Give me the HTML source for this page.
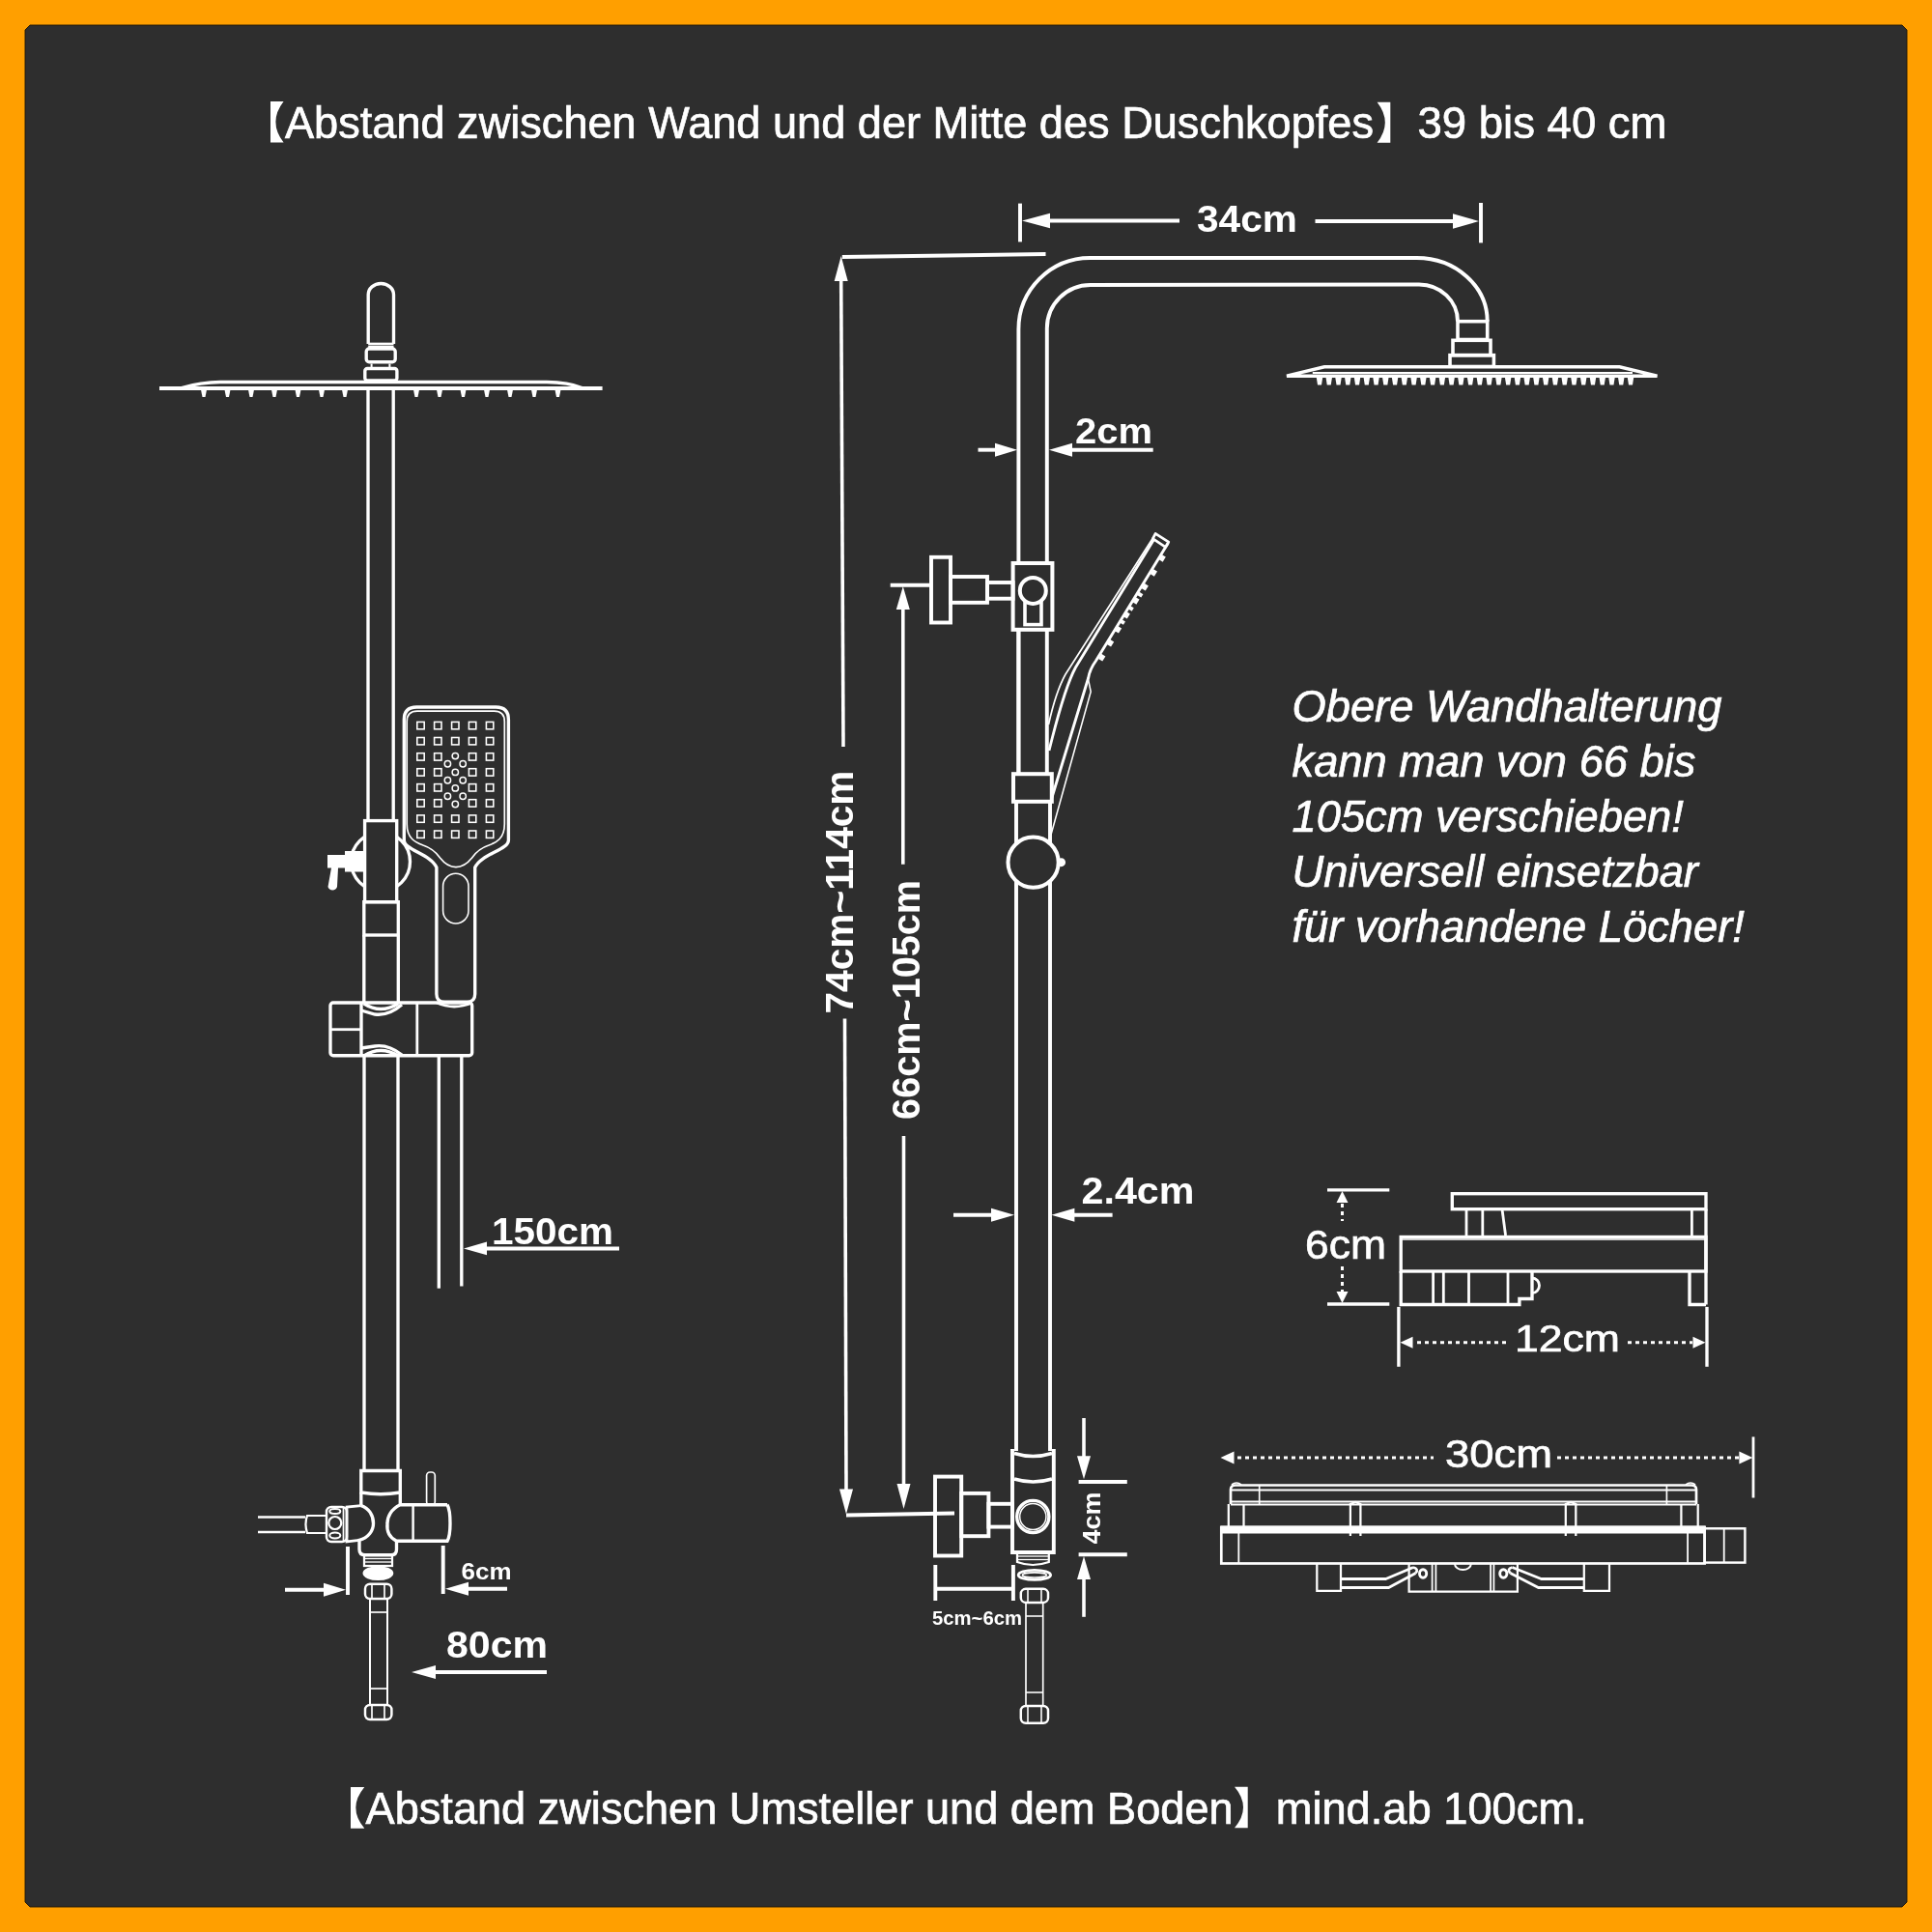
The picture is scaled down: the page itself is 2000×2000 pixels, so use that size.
<!DOCTYPE html>
<html><head><meta charset="utf-8"><style>
html,body{margin:0;padding:0;background:#ff9f00;}
body{width:2000px;height:2000px;overflow:hidden;}
svg{display:block;font-family:"Liberation Sans",sans-serif;will-change:transform;}
</style></head><body>
<svg width="2000" height="2000" viewBox="0 0 2000 2000">
<polygon points="31,26 1969,26 1974,31 1974,1969 1969,1974 31,1974 26,1969 26,31" fill="#2e2e2e" stroke="#1a1206" stroke-width="0.9"/>
<g fill="#ffffff" stroke="none">
<path d="M280,105 L293.6,105 Q277.2,126.25 293.6,147.5 L280,147.5 Z"/>
<text x="295" y="143.3" font-size="45.3" font-weight="400" font-style="normal" text-anchor="start" textLength="1127" lengthAdjust="spacingAndGlyphs" stroke="#fff" stroke-width="0.7">Abstand zwischen Wand und der Mitte des Duschkopfes</text>
<path d="M1425.6,105.8 Q1442,126.8 1425.6,147.8 L1439.3,147.8 L1439.3,105.8 Z"/>
<text x="1467.5" y="143.3" font-size="45.3" font-weight="400" font-style="normal" text-anchor="start" textLength="258" lengthAdjust="spacingAndGlyphs" stroke="#fff" stroke-width="0.7">39 bis 40 cm</text>
</g>
<g stroke="#ffffff" fill="none">
<line x1="165" y1="402" x2="623.6" y2="402" stroke-width="4.03" stroke-linecap="butt"/>
<path d="M186,402 C200,398 212,395.5 228,395.5 L566,395.5 C582,395.5 594,398 604,402" stroke-width="3.36" fill="none" />
<polygon points="208,403.5 214,403.5 212.5,411 209.5,411" fill="#ffffff" stroke="none"/>
<polygon points="232.5,403.5 238.5,403.5 237,411 234,411" fill="#ffffff" stroke="none"/>
<polygon points="257,403.5 263,403.5 261.5,411 258.5,411" fill="#ffffff" stroke="none"/>
<polygon points="281,403.5 287,403.5 285.5,411 282.5,411" fill="#ffffff" stroke="none"/>
<polygon points="305.5,403.5 311.5,403.5 310,411 307,411" fill="#ffffff" stroke="none"/>
<polygon points="330,403.5 336,403.5 334.5,411 331.5,411" fill="#ffffff" stroke="none"/>
<polygon points="354,403.5 360,403.5 358.5,411 355.5,411" fill="#ffffff" stroke="none"/>
<polygon points="428,403.5 434,403.5 432.5,411 429.5,411" fill="#ffffff" stroke="none"/>
<polygon points="452,403.5 458,403.5 456.5,411 453.5,411" fill="#ffffff" stroke="none"/>
<polygon points="476.5,403.5 482.5,403.5 481,411 478,411" fill="#ffffff" stroke="none"/>
<polygon points="501,403.5 507,403.5 505.5,411 502.5,411" fill="#ffffff" stroke="none"/>
<polygon points="525,403.5 531,403.5 529.5,411 526.5,411" fill="#ffffff" stroke="none"/>
<polygon points="550,403.5 556,403.5 554.5,411 551.5,411" fill="#ffffff" stroke="none"/>
<polygon points="574.5,403.5 580.5,403.5 579,411 576,411" fill="#ffffff" stroke="none"/>
<path d="M381.2,356 L381.2,305 A13.15,11.5 0 0 1 407.5,305 L407.5,356" stroke-width="3.36" fill="none" />
<line x1="381.2" y1="356" x2="407.5" y2="356" stroke-width="2.69" stroke-linecap="butt"/>
<line x1="381.2" y1="359" x2="407.5" y2="359" stroke-width="2.24" stroke-linecap="butt"/>
<rect x="379.2" y="361" width="30" height="13.8" rx="3" stroke-width="3.36" fill="none"/>
<line x1="384.6" y1="376.5" x2="384.6" y2="380" stroke-width="2.02" stroke-linecap="butt"/>
<line x1="403.4" y1="376.5" x2="403.4" y2="380" stroke-width="2.02" stroke-linecap="butt"/>
<rect x="377.8" y="381.5" width="33.1" height="12.5" rx="2.5" stroke-width="3.36" fill="none"/>
<line x1="381" y1="402" x2="381" y2="849" stroke-width="3.36" stroke-linecap="butt"/>
<line x1="407.2" y1="402" x2="407.2" y2="849" stroke-width="3.36" stroke-linecap="butt"/>
<circle cx="394" cy="892" r="30.5" stroke-width="3.36" fill="none"/>
<path d="M339,885 L357,885 L357,881 L377,881 L377,902.5 L357,902.5 L357,898.5 L350,898.5 L349,918 A5,5 0 0 1 339.5,918 L343,898.5 L339,898.5 Z" fill="#ffffff" stroke="none"/>
<rect x="377.6" y="849.6" width="33.1" height="84.1" rx="0" stroke-width="3.36" fill="#2e2e2e"/>
<rect x="376.8" y="933.7" width="35.5" height="34.3" rx="0" stroke-width="3.36" fill="none"/>
<line x1="376.8" y1="968" x2="376.8" y2="1039" stroke-width="3.36" stroke-linecap="butt"/>
<line x1="412.3" y1="968" x2="412.3" y2="1039" stroke-width="3.36" stroke-linecap="butt"/>
<path d="M418.3,869.7 L418.3,745 Q418.3,732 431.3,732 L513.4,732 Q526.4,732 526.4,745 L526.4,869.7 C526.4,880 498,884 491.7,898 L491.7,1029 Q491.7,1037.3 483.4,1037.3 L460.2,1037.3 Q451.9,1037.3 451.9,1029 L451.9,898 C446,884 418.3,880 418.3,869.7 Z" stroke-width="3.36" fill="none" />
<path d="M421.2,853 L421.2,747 Q421.2,736.2 432,736.2 L511.5,736.2 Q522.3,736.2 522.3,747 L522.3,853 C522.3,868 514,872 506,875 C497,878 492,883 488.6,888 C483,895 477,897.6 472,897.6 C467,897.6 461,895 455.5,888 C452,883 447,878 438,875 C430,872 421.2,868 421.2,853 Z" stroke-width="1.68" fill="none" />
<rect x="431.8" y="747.4" width="7.4" height="7.4" rx="0" stroke-width="1.57" fill="none"/>
<rect x="449.6" y="747.4" width="7.4" height="7.4" rx="0" stroke-width="1.57" fill="none"/>
<rect x="467.6" y="747.4" width="7.4" height="7.4" rx="0" stroke-width="1.57" fill="none"/>
<rect x="485.4" y="747.4" width="7.4" height="7.4" rx="0" stroke-width="1.57" fill="none"/>
<rect x="503.4" y="747.4" width="7.4" height="7.4" rx="0" stroke-width="1.57" fill="none"/>
<rect x="431.8" y="763.5" width="7.4" height="7.4" rx="0" stroke-width="1.57" fill="none"/>
<rect x="449.6" y="763.5" width="7.4" height="7.4" rx="0" stroke-width="1.57" fill="none"/>
<rect x="467.6" y="763.5" width="7.4" height="7.4" rx="0" stroke-width="1.57" fill="none"/>
<rect x="485.4" y="763.5" width="7.4" height="7.4" rx="0" stroke-width="1.57" fill="none"/>
<rect x="503.4" y="763.5" width="7.4" height="7.4" rx="0" stroke-width="1.57" fill="none"/>
<rect x="431.8" y="779.7" width="7.4" height="7.4" rx="0" stroke-width="1.57" fill="none"/>
<rect x="449.6" y="779.7" width="7.4" height="7.4" rx="0" stroke-width="1.57" fill="none"/>
<rect x="485.4" y="779.7" width="7.4" height="7.4" rx="0" stroke-width="1.57" fill="none"/>
<rect x="503.4" y="779.7" width="7.4" height="7.4" rx="0" stroke-width="1.57" fill="none"/>
<rect x="431.8" y="795.7" width="7.4" height="7.4" rx="0" stroke-width="1.57" fill="none"/>
<rect x="449.6" y="795.7" width="7.4" height="7.4" rx="0" stroke-width="1.57" fill="none"/>
<rect x="485.4" y="795.7" width="7.4" height="7.4" rx="0" stroke-width="1.57" fill="none"/>
<rect x="503.4" y="795.7" width="7.4" height="7.4" rx="0" stroke-width="1.57" fill="none"/>
<rect x="431.8" y="811.6" width="7.4" height="7.4" rx="0" stroke-width="1.57" fill="none"/>
<rect x="449.6" y="811.6" width="7.4" height="7.4" rx="0" stroke-width="1.57" fill="none"/>
<rect x="485.4" y="811.6" width="7.4" height="7.4" rx="0" stroke-width="1.57" fill="none"/>
<rect x="503.4" y="811.6" width="7.4" height="7.4" rx="0" stroke-width="1.57" fill="none"/>
<rect x="431.8" y="827.7" width="7.4" height="7.4" rx="0" stroke-width="1.57" fill="none"/>
<rect x="449.6" y="827.7" width="7.4" height="7.4" rx="0" stroke-width="1.57" fill="none"/>
<rect x="485.4" y="827.7" width="7.4" height="7.4" rx="0" stroke-width="1.57" fill="none"/>
<rect x="503.4" y="827.7" width="7.4" height="7.4" rx="0" stroke-width="1.57" fill="none"/>
<rect x="431.8" y="843.9" width="7.4" height="7.4" rx="0" stroke-width="1.57" fill="none"/>
<rect x="449.6" y="843.9" width="7.4" height="7.4" rx="0" stroke-width="1.57" fill="none"/>
<rect x="467.6" y="843.9" width="7.4" height="7.4" rx="0" stroke-width="1.57" fill="none"/>
<rect x="485.4" y="843.9" width="7.4" height="7.4" rx="0" stroke-width="1.57" fill="none"/>
<rect x="503.4" y="843.9" width="7.4" height="7.4" rx="0" stroke-width="1.57" fill="none"/>
<rect x="431.8" y="860" width="7.4" height="7.4" rx="0" stroke-width="1.57" fill="none"/>
<rect x="449.6" y="860" width="7.4" height="7.4" rx="0" stroke-width="1.57" fill="none"/>
<rect x="467.6" y="860" width="7.4" height="7.4" rx="0" stroke-width="1.57" fill="none"/>
<rect x="485.4" y="860" width="7.4" height="7.4" rx="0" stroke-width="1.57" fill="none"/>
<rect x="503.4" y="860" width="7.4" height="7.4" rx="0" stroke-width="1.57" fill="none"/>
<circle cx="471.3" cy="782.6" r="3.2" stroke-width="1.46" fill="none"/>
<circle cx="463.4" cy="790.8" r="3.2" stroke-width="1.46" fill="none"/>
<circle cx="479.2" cy="790.8" r="3.2" stroke-width="1.46" fill="none"/>
<circle cx="471.3" cy="799.4" r="3.2" stroke-width="1.46" fill="none"/>
<circle cx="463.4" cy="807.7" r="3.2" stroke-width="1.46" fill="none"/>
<circle cx="479.2" cy="807.7" r="3.2" stroke-width="1.46" fill="none"/>
<circle cx="471.3" cy="815.9" r="3.2" stroke-width="1.46" fill="none"/>
<circle cx="463.4" cy="824.2" r="3.2" stroke-width="1.46" fill="none"/>
<circle cx="479.2" cy="824.2" r="3.2" stroke-width="1.46" fill="none"/>
<circle cx="471.3" cy="832.5" r="3.2" stroke-width="1.46" fill="none"/>
<rect x="458.6" y="904.3" width="26.4" height="51.7" rx="13.2" stroke-width="1.57" fill="none"/>
<rect x="342" y="1038" width="146.7" height="54.7" rx="3" stroke-width="3.36" fill="#2e2e2e"/>
<line x1="374" y1="1038" x2="374" y2="1092.7" stroke-width="3.36" stroke-linecap="butt"/>
<line x1="342" y1="1065.7" x2="374" y2="1065.7" stroke-width="2.8" stroke-linecap="butt"/>
<line x1="431.8" y1="1038" x2="431.8" y2="1092.7" stroke-width="2.8" stroke-linecap="butt"/>
<path d="M374,1046 L388,1050 Q402,1052 416,1040" stroke-width="3.36" fill="none" />
<path d="M376.8,1039 Q394,1050 412.3,1039" stroke-width="3.36" fill="none" />
<path d="M374,1085 L388,1083 Q402,1081 416,1092" stroke-width="3.36" fill="none" />
<path d="M376.8,1093 Q394,1082 412.3,1093" stroke-width="3.36" fill="none" />
<path d="M452,1038 Q470,1046 489,1038" stroke-width="2.8" fill="none" />
<line x1="454.3" y1="1093" x2="454.3" y2="1333.7" stroke-width="3.36" stroke-linecap="butt"/>
<line x1="477.8" y1="1093" x2="477.8" y2="1331.5" stroke-width="3.36" stroke-linecap="butt"/>
<line x1="377" y1="1093" x2="377" y2="1522.5" stroke-width="3.36" stroke-linecap="butt"/>
<line x1="412" y1="1093" x2="412" y2="1522.5" stroke-width="3.36" stroke-linecap="butt"/>
<line x1="500" y1="1292.4" x2="641" y2="1292.4" stroke-width="4.03" stroke-linecap="butt"/>
<polygon points="480,1292.4 504,1285.6 504,1299.2" fill="#ffffff" stroke="none"/>
<path d="M373.8,1522.5 L414.3,1522.5 L414.3,1545 Q394,1548.5 373.8,1545 Z" stroke-width="3.36" fill="none" />
<line x1="373.8" y1="1545" x2="373.8" y2="1558.6" stroke-width="3.36" stroke-linecap="butt"/>
<line x1="414.3" y1="1545" x2="414.3" y2="1557.7" stroke-width="3.36" stroke-linecap="butt"/>
<path d="M373.8,1558.6 C382,1561 386.5,1569 386.5,1577 C386.5,1585 381,1592 372,1594.4 L372,1604 Q372,1609.8 378,1609.8 L405,1609.8 Q410.5,1609.8 410.5,1604 L410.5,1595.3" stroke-width="3.36" fill="none" />
<path d="M463,1557.7 L414.3,1557.7 C405,1562 401,1570 401,1577 C400,1586 404,1592 410.5,1595.3 L463,1595.3 Q466,1590 466,1577 Q466,1563 463,1557.7" stroke-width="3.36" fill="none" />
<line x1="427.6" y1="1557.7" x2="427.6" y2="1595.3" stroke-width="2.46" stroke-linecap="butt"/>
<rect x="441.6" y="1524" width="8.7" height="34" rx="3.5" stroke-width="1.68" fill="none"/>
<path d="M373.8,1558.6 L359,1560 L359,1596 L372,1594.4" stroke-width="2.8" fill="none" />
<rect x="338" y="1560" width="21" height="36" rx="5" stroke-width="2.46" fill="none"/>
<ellipse cx="346.8" cy="1576.5" rx="6.5" ry="6.5" stroke-width="2.24" fill="none"/>
<ellipse cx="346.8" cy="1564.5" rx="5.5" ry="2.5" stroke-width="2.02" fill="none"/>
<ellipse cx="346.8" cy="1589.5" rx="5.5" ry="3" stroke-width="2.02" fill="none"/>
<line x1="355.5" y1="1561" x2="355.5" y2="1595" stroke-width="1.68" stroke-linecap="butt"/>
<line x1="267" y1="1570.5" x2="316" y2="1570.5" stroke-width="2.46" stroke-linecap="butt"/>
<line x1="267" y1="1586" x2="316" y2="1586" stroke-width="2.46" stroke-linecap="butt"/>
<path d="M338,1569 L318,1569 Q315,1577.5 318,1587 L338,1587" stroke-width="2.24" fill="none" />
<rect x="377" y="1609.8" width="29" height="11.2" rx="0" stroke-width="2.24" fill="none"/>
<line x1="378" y1="1613.5" x2="405" y2="1613.5" stroke-width="1.34" stroke-linecap="butt"/>
<line x1="378" y1="1617" x2="405" y2="1617" stroke-width="1.34" stroke-linecap="butt"/>
<ellipse cx="391.4" cy="1628.6" rx="14.5" ry="6" stroke-width="2.8" fill="#ffffff"/>
<rect x="378" y="1639.7" width="27.4" height="15.3" rx="5" stroke-width="2.46" fill="none"/>
<line x1="385" y1="1641" x2="385" y2="1654" stroke-width="1.68" stroke-linecap="butt"/>
<line x1="398" y1="1641" x2="398" y2="1654" stroke-width="1.68" stroke-linecap="butt"/>
<line x1="383" y1="1655" x2="383" y2="1765" stroke-width="2.02" stroke-linecap="butt"/>
<line x1="401" y1="1655" x2="401" y2="1765" stroke-width="2.02" stroke-linecap="butt"/>
<line x1="383" y1="1669" x2="401" y2="1669" stroke-width="1.68" stroke-linecap="butt"/>
<line x1="383" y1="1748" x2="401" y2="1748" stroke-width="1.68" stroke-linecap="butt"/>
<rect x="378" y="1765" width="27.4" height="15" rx="5" stroke-width="2.46" fill="none"/>
<line x1="385" y1="1766" x2="385" y2="1779" stroke-width="1.68" stroke-linecap="butt"/>
<line x1="398" y1="1766" x2="398" y2="1779" stroke-width="1.68" stroke-linecap="butt"/>
<line x1="360" y1="1601" x2="360" y2="1651" stroke-width="3.92" stroke-linecap="butt"/>
<line x1="295" y1="1645.7" x2="338" y2="1645.7" stroke-width="3.92" stroke-linecap="butt"/>
<polygon points="358,1645.7 335,1638.7 335,1652.7" fill="#ffffff" stroke="none"/>
<line x1="458.7" y1="1600" x2="458.7" y2="1650" stroke-width="3.92" stroke-linecap="butt"/>
<line x1="483" y1="1644.8" x2="525" y2="1644.8" stroke-width="3.92" stroke-linecap="butt"/>
<polygon points="461,1644.8 485,1637.8 485,1651.8" fill="#ffffff" stroke="none"/>
<line x1="448" y1="1731" x2="566" y2="1731" stroke-width="4.03" stroke-linecap="butt"/>
<polygon points="426,1731 451,1724 451,1738" fill="#ffffff" stroke="none"/>
</g>
<g stroke="#ffffff" fill="none">
<line x1="1056" y1="210.6" x2="1056" y2="250.4" stroke-width="3.92" stroke-linecap="butt"/>
<line x1="1533" y1="210" x2="1533" y2="251.4" stroke-width="3.92" stroke-linecap="butt"/>
<line x1="1085" y1="228.5" x2="1221" y2="228.5" stroke-width="3.92" stroke-linecap="butt"/>
<polygon points="1058,228.5 1087,220.8 1087,236.2" fill="#ffffff" stroke="none"/>
<line x1="1361.5" y1="229" x2="1506" y2="229" stroke-width="3.92" stroke-linecap="butt"/>
<polygon points="1531,229 1504,221.3 1504,236.7" fill="#ffffff" stroke="none"/>
<line x1="871.8" y1="266" x2="1082.5" y2="263" stroke-width="3.92" stroke-linecap="butt"/>
<path d="M1054.4,801 L1054.4,341 A74,74 0 0 1 1128.4,267 L1466.5,267 A73.2,65.7 0 0 1 1539.7,332.7" stroke-width="3.92" fill="none" />
<path d="M1083.8,583 L1083.8,340 A45,45 0 0 1 1128.8,295 L1469,294.5 A40,38.2 0 0 1 1509,332.7" stroke-width="3.92" fill="none" />
<rect x="1509" y="332.7" width="30.7" height="18.8" rx="0" stroke-width="3.58" fill="none"/>
<rect x="1504" y="352.3" width="39" height="15.4" rx="0" stroke-width="3.58" fill="none"/>
<rect x="1501" y="367.7" width="45.4" height="11.8" rx="0" stroke-width="3.58" fill="none"/>
<path d="M1332,389.2 L1371,379.8 L1676.5,379.8 L1715.5,389.2 Z" stroke-width="3.36" fill="#2e2e2e" />
<line x1="1358.8" y1="386" x2="1690" y2="386" stroke-width="2.02" stroke-linecap="butt"/>
<polygon points="1362.5,389 1369.5,389 1368,398.6 1364,398.6" fill="#ffffff" stroke="none"/>
<polygon points="1372.26,389 1379.26,389 1377.76,398.6 1373.76,398.6" fill="#ffffff" stroke="none"/>
<polygon points="1382.02,389 1389.02,389 1387.52,398.6 1383.52,398.6" fill="#ffffff" stroke="none"/>
<polygon points="1391.77,389 1398.77,389 1397.27,398.6 1393.27,398.6" fill="#ffffff" stroke="none"/>
<polygon points="1401.53,389 1408.53,389 1407.03,398.6 1403.03,398.6" fill="#ffffff" stroke="none"/>
<polygon points="1411.29,389 1418.29,389 1416.79,398.6 1412.79,398.6" fill="#ffffff" stroke="none"/>
<polygon points="1421.05,389 1428.05,389 1426.55,398.6 1422.55,398.6" fill="#ffffff" stroke="none"/>
<polygon points="1430.8,389 1437.8,389 1436.3,398.6 1432.3,398.6" fill="#ffffff" stroke="none"/>
<polygon points="1440.56,389 1447.56,389 1446.06,398.6 1442.06,398.6" fill="#ffffff" stroke="none"/>
<polygon points="1450.32,389 1457.32,389 1455.82,398.6 1451.82,398.6" fill="#ffffff" stroke="none"/>
<polygon points="1460.08,389 1467.08,389 1465.58,398.6 1461.58,398.6" fill="#ffffff" stroke="none"/>
<polygon points="1469.83,389 1476.83,389 1475.33,398.6 1471.33,398.6" fill="#ffffff" stroke="none"/>
<polygon points="1479.59,389 1486.59,389 1485.09,398.6 1481.09,398.6" fill="#ffffff" stroke="none"/>
<polygon points="1489.35,389 1496.35,389 1494.85,398.6 1490.85,398.6" fill="#ffffff" stroke="none"/>
<polygon points="1499.11,389 1506.11,389 1504.61,398.6 1500.61,398.6" fill="#ffffff" stroke="none"/>
<polygon points="1508.86,389 1515.86,389 1514.36,398.6 1510.36,398.6" fill="#ffffff" stroke="none"/>
<polygon points="1518.62,389 1525.62,389 1524.12,398.6 1520.12,398.6" fill="#ffffff" stroke="none"/>
<polygon points="1528.38,389 1535.38,389 1533.88,398.6 1529.88,398.6" fill="#ffffff" stroke="none"/>
<polygon points="1538.14,389 1545.14,389 1543.64,398.6 1539.64,398.6" fill="#ffffff" stroke="none"/>
<polygon points="1547.89,389 1554.89,389 1553.39,398.6 1549.39,398.6" fill="#ffffff" stroke="none"/>
<polygon points="1557.65,389 1564.65,389 1563.15,398.6 1559.15,398.6" fill="#ffffff" stroke="none"/>
<polygon points="1567.41,389 1574.41,389 1572.91,398.6 1568.91,398.6" fill="#ffffff" stroke="none"/>
<polygon points="1577.17,389 1584.17,389 1582.67,398.6 1578.67,398.6" fill="#ffffff" stroke="none"/>
<polygon points="1586.92,389 1593.92,389 1592.42,398.6 1588.42,398.6" fill="#ffffff" stroke="none"/>
<polygon points="1596.68,389 1603.68,389 1602.18,398.6 1598.18,398.6" fill="#ffffff" stroke="none"/>
<polygon points="1606.44,389 1613.44,389 1611.94,398.6 1607.94,398.6" fill="#ffffff" stroke="none"/>
<polygon points="1616.2,389 1623.2,389 1621.7,398.6 1617.7,398.6" fill="#ffffff" stroke="none"/>
<polygon points="1625.95,389 1632.95,389 1631.45,398.6 1627.45,398.6" fill="#ffffff" stroke="none"/>
<polygon points="1635.71,389 1642.71,389 1641.21,398.6 1637.21,398.6" fill="#ffffff" stroke="none"/>
<polygon points="1645.47,389 1652.47,389 1650.97,398.6 1646.97,398.6" fill="#ffffff" stroke="none"/>
<polygon points="1655.23,389 1662.23,389 1660.73,398.6 1656.73,398.6" fill="#ffffff" stroke="none"/>
<polygon points="1664.98,389 1671.98,389 1670.48,398.6 1666.48,398.6" fill="#ffffff" stroke="none"/>
<polygon points="1674.74,389 1681.74,389 1680.24,398.6 1676.24,398.6" fill="#ffffff" stroke="none"/>
<polygon points="1684.5,389 1691.5,389 1690,398.6 1686,398.6" fill="#ffffff" stroke="none"/>
<line x1="1012.5" y1="465.7" x2="1031" y2="465.7" stroke-width="3.92" stroke-linecap="butt"/>
<polygon points="1053,465.7 1030,458.7 1030,472.7" fill="#ffffff" stroke="none"/>
<line x1="1108" y1="465.7" x2="1193.7" y2="465.7" stroke-width="3.92" stroke-linecap="butt"/>
<polygon points="1086,465.7 1110,458.7 1110,472.7" fill="#ffffff" stroke="none"/>
<path d="M1196,553 L1103,698 Q1093,716 1085.5,750" stroke-width="1.68" fill="none" />
<path d="M1194.5,558.5 L1113.4,691 Q1102,712 1086,777" stroke-width="2.8" fill="none" />
<path d="M1209.3,562 L1134.5,684 Q1128,693 1126.6,702 L1088.8,826" stroke-width="2.91" fill="none" />
<path d="M1126.6,703.6 L1129.2,716 L1088,864" stroke-width="1.57" fill="none" />
<polygon points="1196.1,552.3 1209.8,561.1 1206.6,566.4 1193.4,557.6" stroke-width="2.69" fill="none" stroke-linejoin="round"/>
<rect x="1200.1" y="575.3" width="6" height="5" transform="rotate(-58.5 1203.1 577.8)" fill="#ffffff" stroke="none"/>
<rect x="1191.3" y="590.3" width="6" height="5" transform="rotate(-58.5 1194.3 592.8)" fill="#ffffff" stroke="none"/>
<rect x="1182.2" y="605.2" width="6" height="5" transform="rotate(-58.5 1185.2 607.7)" fill="#ffffff" stroke="none"/>
<rect x="1178.2" y="613.1" width="4" height="5" transform="rotate(-58.5 1180.2 615.6)" fill="#ffffff" stroke="none"/>
<rect x="1172.8" y="619.3" width="6" height="5" transform="rotate(-58.5 1175.8 621.8)" fill="#ffffff" stroke="none"/>
<rect x="1168.6" y="627.2" width="4" height="5" transform="rotate(-58.5 1170.6 629.7)" fill="#ffffff" stroke="none"/>
<rect x="1163.2" y="634.2" width="6" height="5" transform="rotate(-58.5 1166.2 636.7)" fill="#ffffff" stroke="none"/>
<rect x="1159.8" y="641.3" width="4" height="5" transform="rotate(-58.5 1161.8 643.8)" fill="#ffffff" stroke="none"/>
<rect x="1154.4" y="649.2" width="6" height="5" transform="rotate(-58.5 1157.4 651.7)" fill="#ffffff" stroke="none"/>
<rect x="1146.5" y="663.2" width="6" height="5" transform="rotate(-58.5 1149.5 665.7)" fill="#ffffff" stroke="none"/>
<rect x="1137.7" y="678.2" width="6" height="5" transform="rotate(-58.5 1140.7 680.7)" fill="#ffffff" stroke="none"/>
<line x1="1054.4" y1="651.8" x2="1054.4" y2="801" stroke-width="3.92" stroke-linecap="butt"/>
<line x1="1083.8" y1="651.8" x2="1083.8" y2="801" stroke-width="3.92" stroke-linecap="butt"/>
<rect x="1049" y="801.2" width="39.8" height="28.6" rx="0" stroke-width="4.03" fill="#2e2e2e"/>
<line x1="1052" y1="829.8" x2="1052" y2="1504" stroke-width="3.92" stroke-linecap="butt"/>
<line x1="1087" y1="829.8" x2="1087" y2="1504" stroke-width="3.92" stroke-linecap="butt"/>
<circle cx="1069.6" cy="892.7" r="26.1" stroke-width="4.03" fill="#2e2e2e"/>
<circle cx="1098.6" cy="892.7" r="3.6" stroke-width="1.68" fill="#ffffff"/>
<rect x="1048.6" y="583" width="40.8" height="68.8" rx="0" stroke-width="4.03" fill="#2e2e2e"/>
<rect x="1061" y="620" width="17" height="26.6" rx="0" stroke-width="3.58" fill="none"/>
<circle cx="1069.3" cy="611.4" r="13.5" stroke-width="4.03" fill="#2e2e2e"/>
<rect x="1022" y="603" width="26.6" height="16.7" rx="0" stroke-width="3.92" fill="none"/>
<rect x="984" y="597" width="38" height="26.8" rx="0" stroke-width="3.92" fill="none"/>
<rect x="964" y="576.8" width="20" height="67.7" rx="0" stroke-width="3.92" fill="none"/>
<line x1="921.7" y1="605.8" x2="964" y2="605.8" stroke-width="3.92" stroke-linecap="butt"/>
<line x1="934.8" y1="629" x2="934.8" y2="894.8" stroke-width="3.58" stroke-linecap="butt"/>
<polygon points="934.8,607 927.8,631 941.8,631" fill="#ffffff" stroke="none"/>
<line x1="935.5" y1="1176" x2="935.5" y2="1536" stroke-width="3.58" stroke-linecap="butt"/>
<polygon points="935.5,1562 928.5,1536 942.5,1536" fill="#ffffff" stroke="none"/>
<line x1="870.7" y1="290" x2="873" y2="773" stroke-width="3.58" stroke-linecap="butt"/>
<polygon points="870.7,265 863.7,291 877.7,291" fill="#ffffff" stroke="none"/>
<line x1="874.5" y1="1054.6" x2="876" y2="1542" stroke-width="3.58" stroke-linecap="butt"/>
<polygon points="876,1567.4 869,1541.4 883,1541.4" fill="#ffffff" stroke="none"/>
<line x1="876" y1="1568.5" x2="988" y2="1566.5" stroke-width="3.92" stroke-linecap="butt"/>
<line x1="987" y1="1257.7" x2="1028" y2="1257.7" stroke-width="3.92" stroke-linecap="butt"/>
<polygon points="1050,1257.7 1026,1250.7 1026,1264.7" fill="#ffffff" stroke="none"/>
<line x1="1110" y1="1257.7" x2="1151.6" y2="1257.7" stroke-width="3.92" stroke-linecap="butt"/>
<polygon points="1088.4,1257.7 1112.4,1250.7 1112.4,1264.7" fill="#ffffff" stroke="none"/>
<rect x="1048" y="1502" width="42.8" height="105" fill="#2e2e2e" stroke="none"/>
<path d="M1048,1500 L1048,1607 L1090.8,1607 L1090.8,1500" stroke-width="3.92" fill="none" />
<path d="M1050,1504.5 Q1069.4,1510.5 1089,1504.5" stroke-width="3.58" fill="none" />
<path d="M1050,1531 Q1069.4,1537 1089,1531" stroke-width="3.58" fill="none" />
<circle cx="1069.3" cy="1570" r="16.6" stroke-width="3.36" fill="none"/>
<circle cx="1069.3" cy="1570" r="13.6" stroke-width="1.46" fill="none"/>
<rect x="968" y="1528.6" width="27.2" height="81.9" rx="0" stroke-width="3.92" fill="none"/>
<rect x="995.2" y="1545.9" width="28.2" height="44.3" rx="0" stroke-width="3.92" fill="none"/>
<rect x="1023.4" y="1556.8" width="24.6" height="23.8" rx="0" stroke-width="3.92" fill="none"/>
<path d="M1053,1607 L1053,1617 Q1069,1623 1085.8,1617 L1085.8,1607" stroke-width="2.24" fill="none" />
<line x1="1054" y1="1611" x2="1085" y2="1611" stroke-width="1.34" stroke-linecap="butt"/>
<line x1="1054" y1="1614.5" x2="1085" y2="1614.5" stroke-width="1.34" stroke-linecap="butt"/>
<ellipse cx="1070.9" cy="1630.4" rx="16.7" ry="5" stroke-width="2.8" fill="none"/>
<ellipse cx="1070.9" cy="1630.4" rx="12.5" ry="2.6" stroke-width="1.68" fill="none"/>
<rect x="1056.8" y="1644.8" width="28.2" height="14.1" rx="5" stroke-width="2.46" fill="none"/>
<line x1="1064" y1="1646" x2="1064" y2="1658" stroke-width="1.57" stroke-linecap="butt"/>
<line x1="1078" y1="1646" x2="1078" y2="1658" stroke-width="1.57" stroke-linecap="butt"/>
<line x1="1062" y1="1659" x2="1062" y2="1766" stroke-width="1.68" stroke-linecap="butt"/>
<line x1="1079.7" y1="1659" x2="1079.7" y2="1766" stroke-width="1.68" stroke-linecap="butt"/>
<line x1="1062" y1="1673" x2="1079.7" y2="1673" stroke-width="1.57" stroke-linecap="butt"/>
<line x1="1062" y1="1752" x2="1079.7" y2="1752" stroke-width="1.57" stroke-linecap="butt"/>
<rect x="1056.8" y="1766" width="28.2" height="17.8" rx="5" stroke-width="2.46" fill="none"/>
<line x1="1064" y1="1767" x2="1064" y2="1783" stroke-width="1.57" stroke-linecap="butt"/>
<line x1="1078" y1="1767" x2="1078" y2="1783" stroke-width="1.57" stroke-linecap="butt"/>
<line x1="968.3" y1="1620" x2="968.3" y2="1657" stroke-width="3.92" stroke-linecap="butt"/>
<line x1="1048.9" y1="1620" x2="1048.9" y2="1657" stroke-width="3.92" stroke-linecap="butt"/>
<line x1="968.3" y1="1644.8" x2="1048.9" y2="1644.8" stroke-width="3.92" stroke-linecap="butt"/>
<line x1="1122" y1="1468" x2="1122" y2="1509" stroke-width="3.58" stroke-linecap="butt"/>
<polygon points="1122,1531.3 1115,1507.3 1129,1507.3" fill="#ffffff" stroke="none"/>
<line x1="1116.6" y1="1534" x2="1166.8" y2="1534" stroke-width="3.92" stroke-linecap="butt"/>
<line x1="1116.6" y1="1609.2" x2="1166.8" y2="1609.2" stroke-width="3.92" stroke-linecap="butt"/>
<polygon points="1122,1611 1115,1635 1129,1635" fill="#ffffff" stroke="none"/>
<line x1="1122" y1="1633" x2="1122" y2="1673.8" stroke-width="3.58" stroke-linecap="butt"/>
</g>
<g stroke="#ffffff" fill="none">
<line x1="1374" y1="1231.9" x2="1438.3" y2="1231.9" stroke-width="3.36" stroke-linecap="butt"/>
<line x1="1374" y1="1350" x2="1438.3" y2="1350" stroke-width="3.36" stroke-linecap="butt"/>
<polygon points="1389.5,1233 1383.5,1245 1395.5,1245" fill="#ffffff" stroke="none"/>
<polygon points="1389.5,1349 1383.5,1337 1395.5,1337" fill="#ffffff" stroke="none"/>
<line x1="1389.5" y1="1246" x2="1389.5" y2="1264" stroke-width="3" stroke-dasharray="4,4"/>
<line x1="1389.5" y1="1311" x2="1389.5" y2="1337" stroke-width="3" stroke-dasharray="4,4"/>
<rect x="1503.3" y="1235.7" width="262.7" height="16" rx="0" stroke-width="3.36" fill="none"/>
<line x1="1518" y1="1251.7" x2="1518" y2="1279" stroke-width="2.8" stroke-linecap="butt"/>
<line x1="1534.8" y1="1251.7" x2="1534.8" y2="1279" stroke-width="2.8" stroke-linecap="butt"/>
<line x1="1555" y1="1251.7" x2="1558.6" y2="1279" stroke-width="2.8" stroke-linecap="butt"/>
<line x1="1751.4" y1="1251.7" x2="1751.4" y2="1279" stroke-width="2.8" stroke-linecap="butt"/>
<line x1="1766" y1="1251.7" x2="1766" y2="1350.5" stroke-width="3.36" stroke-linecap="butt"/>
<rect x="1450.2" y="1280.5" width="315.8" height="35.5" rx="0" stroke-width="3.36" fill="none"/>
<line x1="1450.2" y1="1283" x2="1766" y2="1283" stroke-width="1.68" stroke-linecap="butt"/>
<path d="M1450.2,1316 L1450.2,1350.5 L1572.9,1350.5 L1572.9,1344.5 L1586,1344.5 L1586,1316" stroke-width="3.36" fill="none" />
<line x1="1483.6" y1="1316" x2="1483.6" y2="1350.5" stroke-width="2.8" stroke-linecap="butt"/>
<line x1="1494.3" y1="1316" x2="1494.3" y2="1350.5" stroke-width="2.8" stroke-linecap="butt"/>
<line x1="1520.5" y1="1316" x2="1520.5" y2="1350.5" stroke-width="2.8" stroke-linecap="butt"/>
<line x1="1561" y1="1316" x2="1561" y2="1350.5" stroke-width="2.8" stroke-linecap="butt"/>
<path d="M1586,1323 A7.5,7.8 0 0 1 1586,1338.6" stroke-width="2.8" fill="none" />
<path d="M1749,1316 L1749,1350.5 L1766,1350.5" stroke-width="3.36" fill="none" />
<line x1="1447.9" y1="1352.9" x2="1447.9" y2="1414.8" stroke-width="3.36" stroke-linecap="butt"/>
<line x1="1767" y1="1352.9" x2="1767" y2="1414.8" stroke-width="3.36" stroke-linecap="butt"/>
<polygon points="1449.5,1389.8 1462.5,1383.8 1462.5,1395.8" fill="#ffffff" stroke="none"/>
<polygon points="1765.5,1389.8 1752.5,1383.8 1752.5,1395.8" fill="#ffffff" stroke="none"/>
<line x1="1467" y1="1389.8" x2="1563" y2="1389.8" stroke-width="3" stroke-dasharray="4,4"/>
<line x1="1685" y1="1389.8" x2="1752" y2="1389.8" stroke-width="3" stroke-dasharray="4,4"/>
<polygon points="1263.5,1509 1277.5,1502.5 1277.5,1515.5" fill="#ffffff" stroke="none"/>
<polygon points="1814.4,1509 1800.4,1502.5 1800.4,1515.5" fill="#ffffff" stroke="none"/>
<line x1="1281" y1="1509" x2="1484" y2="1509" stroke-width="3" stroke-dasharray="4,4"/>
<line x1="1612" y1="1509" x2="1800" y2="1509" stroke-width="3" stroke-dasharray="4,4"/>
<line x1="1815" y1="1487.4" x2="1815" y2="1550.5" stroke-width="2.8" stroke-linecap="butt"/>
<path d="M1274,1557 L1274,1542 Q1274,1537.5 1279,1537.5 L1751,1537.5 Q1756,1537.5 1756,1542 L1756,1557" stroke-width="2.69" fill="none" />
<line x1="1274" y1="1542.5" x2="1756" y2="1542.5" stroke-width="2.24" stroke-linecap="butt"/>
<line x1="1274" y1="1554.5" x2="1756" y2="1554.5" stroke-width="2.24" stroke-linecap="butt"/>
<line x1="1274" y1="1557.5" x2="1756" y2="1557.5" stroke-width="2.24" stroke-linecap="butt"/>
<line x1="1303.7" y1="1537.5" x2="1303.7" y2="1557.5" stroke-width="1.68" stroke-linecap="butt"/>
<line x1="1725.4" y1="1537.5" x2="1725.4" y2="1557.5" stroke-width="1.68" stroke-linecap="butt"/>
<path d="M1275,1537 Q1280,1533 1285,1537" stroke-width="1.68" fill="none" />
<path d="M1745,1537 Q1750,1533 1755,1537" stroke-width="1.68" fill="none" />
<line x1="1271.8" y1="1557" x2="1271.8" y2="1581" stroke-width="2.24" stroke-linecap="butt"/>
<line x1="1287.5" y1="1557" x2="1287.5" y2="1581" stroke-width="2.24" stroke-linecap="butt"/>
<line x1="1740.4" y1="1557" x2="1740.4" y2="1581" stroke-width="2.24" stroke-linecap="butt"/>
<line x1="1757.7" y1="1557" x2="1757.7" y2="1581" stroke-width="2.24" stroke-linecap="butt"/>
<path d="M1397.9,1590 L1397.9,1557 L1403.15,1555 L1408.4,1557 L1408.4,1590" stroke-width="2.24" fill="none" />
<path d="M1620.8,1590 L1620.8,1557 L1626.05,1555 L1631.3,1557 L1631.3,1590" stroke-width="2.24" fill="none" />
<rect x="1264.3" y="1581" width="500.3" height="37.5" rx="0" stroke-width="2.69" fill="none"/>
<rect x="1263.5" y="1579.5" width="502" height="8" fill="#ffffff" stroke="none"/>
<line x1="1282.3" y1="1586" x2="1282.3" y2="1618.5" stroke-width="1.79" stroke-linecap="butt"/>
<line x1="1747.1" y1="1586" x2="1747.1" y2="1618.5" stroke-width="1.79" stroke-linecap="butt"/>
<rect x="1764.6" y="1582.3" width="41.8" height="35.3" rx="0" stroke-width="2.46" fill="none"/>
<line x1="1784.7" y1="1582.3" x2="1784.7" y2="1617.6" stroke-width="1.79" stroke-linecap="butt"/>
<path d="M1363.3,1618.5 L1363.3,1646.8 L1388,1646.8 L1388,1618.5" stroke-width="2.24" fill="none" />
<path d="M1639.8,1618.5 L1639.8,1646.8 L1666,1646.8 L1666,1618.5" stroke-width="2.24" fill="none" />
<path d="M1458.6,1619 L1458.6,1647.6 L1570.9,1647.6 L1570.9,1619" stroke-width="2.24" fill="none" />
<line x1="1482.6" y1="1619" x2="1482.6" y2="1647.6" stroke-width="1.79" stroke-linecap="butt"/>
<line x1="1486.4" y1="1619" x2="1486.4" y2="1647.6" stroke-width="1.79" stroke-linecap="butt"/>
<line x1="1543.1" y1="1619" x2="1543.1" y2="1647.6" stroke-width="1.79" stroke-linecap="butt"/>
<line x1="1546.4" y1="1619" x2="1546.4" y2="1647.6" stroke-width="1.79" stroke-linecap="butt"/>
<path d="M1506,1619 A8.4,6 0 0 0 1522.8,1619" stroke-width="2.02" fill="none" />
<polyline points="1388,1634.5 1434.6,1634.5 1463,1622.5" stroke-width="2.91" fill="none" stroke-linejoin="round"/>
<polyline points="1388,1643.5 1437.6,1643.5 1465.5,1628.5" stroke-width="2.91" fill="none" stroke-linejoin="round"/>
<path d="M1463,1622.5 Q1469,1624 1465.5,1628.5" stroke-width="2.69" fill="none" />
<polyline points="1639.8,1634.5 1595.5,1634.5 1565.5,1622.5" stroke-width="2.91" fill="none" stroke-linejoin="round"/>
<polyline points="1639.8,1643.5 1592.5,1643.5 1563.5,1628.5" stroke-width="2.91" fill="none" stroke-linejoin="round"/>
<path d="M1565.5,1622.5 Q1559.5,1624 1563.5,1628.5" stroke-width="2.69" fill="none" />
<ellipse cx="1473.1" cy="1629" rx="3.6" ry="4.2" stroke-width="2.91" fill="none"/>
<ellipse cx="1556.3" cy="1629" rx="3.6" ry="4.2" stroke-width="2.91" fill="none"/>
</g>
<g fill="#ffffff" stroke="none">
<path d="M363,1850 L377.3,1850 Q359.3,1871.4 377.3,1892.8 L363,1892.8 Z"/>
<text x="378.6" y="1887.7" font-size="45.3" font-weight="400" font-style="normal" text-anchor="start" textLength="898" lengthAdjust="spacingAndGlyphs" stroke="#fff" stroke-width="0.7">Abstand zwischen Umsteller und dem Boden</text>
<path d="M1278,1849.8 Q1296,1871 1278,1892.2 L1291.7,1892.2 L1291.7,1849.8 Z"/>
<text x="1320.7" y="1887.7" font-size="45.3" font-weight="400" font-style="normal" text-anchor="start" textLength="322" lengthAdjust="spacingAndGlyphs" stroke="#fff" stroke-width="0.7">mind.ab 100cm.</text>
<text x="1337.5" y="746.6" font-size="45.3" font-weight="400" font-style="italic" text-anchor="start" stroke="#fff" stroke-width="0.7">Obere Wandhalterung</text>
<text x="1337.5" y="803.6" font-size="45.3" font-weight="400" font-style="italic" text-anchor="start" stroke="#fff" stroke-width="0.7">kann man von 66 bis</text>
<text x="1337.5" y="860.6" font-size="45.3" font-weight="400" font-style="italic" text-anchor="start" stroke="#fff" stroke-width="0.7">105cm verschieben!</text>
<text x="1337.5" y="917.6" font-size="45.3" font-weight="400" font-style="italic" text-anchor="start" stroke="#fff" stroke-width="0.7">Universell einsetzbar</text>
<text x="1337.5" y="974.6" font-size="45.3" font-weight="400" font-style="italic" text-anchor="start" stroke="#fff" stroke-width="0.7">für vorhandene Löcher!</text>
<text x="509" y="1288" font-size="38.6" font-weight="700" font-style="normal" text-anchor="start" textLength="126" lengthAdjust="spacingAndGlyphs" >150cm</text>
<text x="477.5" y="1634.6" font-size="23.5" font-weight="700" font-style="normal" text-anchor="start" textLength="52" lengthAdjust="spacingAndGlyphs" >6cm</text>
<text x="462" y="1715.7" font-size="38.6" font-weight="700" font-style="normal" text-anchor="start" textLength="105" lengthAdjust="spacingAndGlyphs" >80cm</text>
<text x="1239" y="239.8" font-size="38.6" font-weight="700" font-style="normal" text-anchor="start" textLength="104" lengthAdjust="spacingAndGlyphs" >34cm</text>
<text x="1113" y="458.5" font-size="37.5" font-weight="700" font-style="normal" text-anchor="start" textLength="80" lengthAdjust="spacingAndGlyphs" >2cm</text>
<text x="1119.5" y="1246.3" font-size="38.6" font-weight="700" font-style="normal" text-anchor="start" textLength="117" lengthAdjust="spacingAndGlyphs" >2.4cm</text>
<text x="965" y="1681.7" font-size="20" font-weight="700" font-style="normal" text-anchor="start" textLength="93" lengthAdjust="spacingAndGlyphs" >5cm~6cm</text>
<text x="883.3" y="923.5" font-size="40" font-weight="700" font-style="normal" text-anchor="middle" transform="rotate(-90 883.3 923.5)" textLength="252" lengthAdjust="spacingAndGlyphs" >74cm~114cm</text>
<text x="951.7" y="1034.9" font-size="40" font-weight="700" font-style="normal" text-anchor="middle" transform="rotate(-90 951.7 1034.9)" textLength="248" lengthAdjust="spacingAndGlyphs" >66cm~105cm</text>
<text x="1138.6" y="1571.6" font-size="25" font-weight="700" font-style="normal" text-anchor="middle" transform="rotate(-90 1138.6 1571.6)" textLength="54" lengthAdjust="spacingAndGlyphs" >4cm</text>
<text x="1351" y="1302.9" font-size="42" font-weight="400" font-style="normal" text-anchor="start" textLength="84" lengthAdjust="spacingAndGlyphs" stroke="#fff" stroke-width="0.7">6cm</text>
<text x="1568" y="1399.3" font-size="39" font-weight="400" font-style="normal" text-anchor="start" textLength="109" lengthAdjust="spacingAndGlyphs" stroke="#fff" stroke-width="0.7">12cm</text>
<text x="1496" y="1518.6" font-size="40" font-weight="400" font-style="normal" text-anchor="start" textLength="111" lengthAdjust="spacingAndGlyphs" stroke="#fff" stroke-width="0.7">30cm</text>
</g>
</svg>
</body></html>
